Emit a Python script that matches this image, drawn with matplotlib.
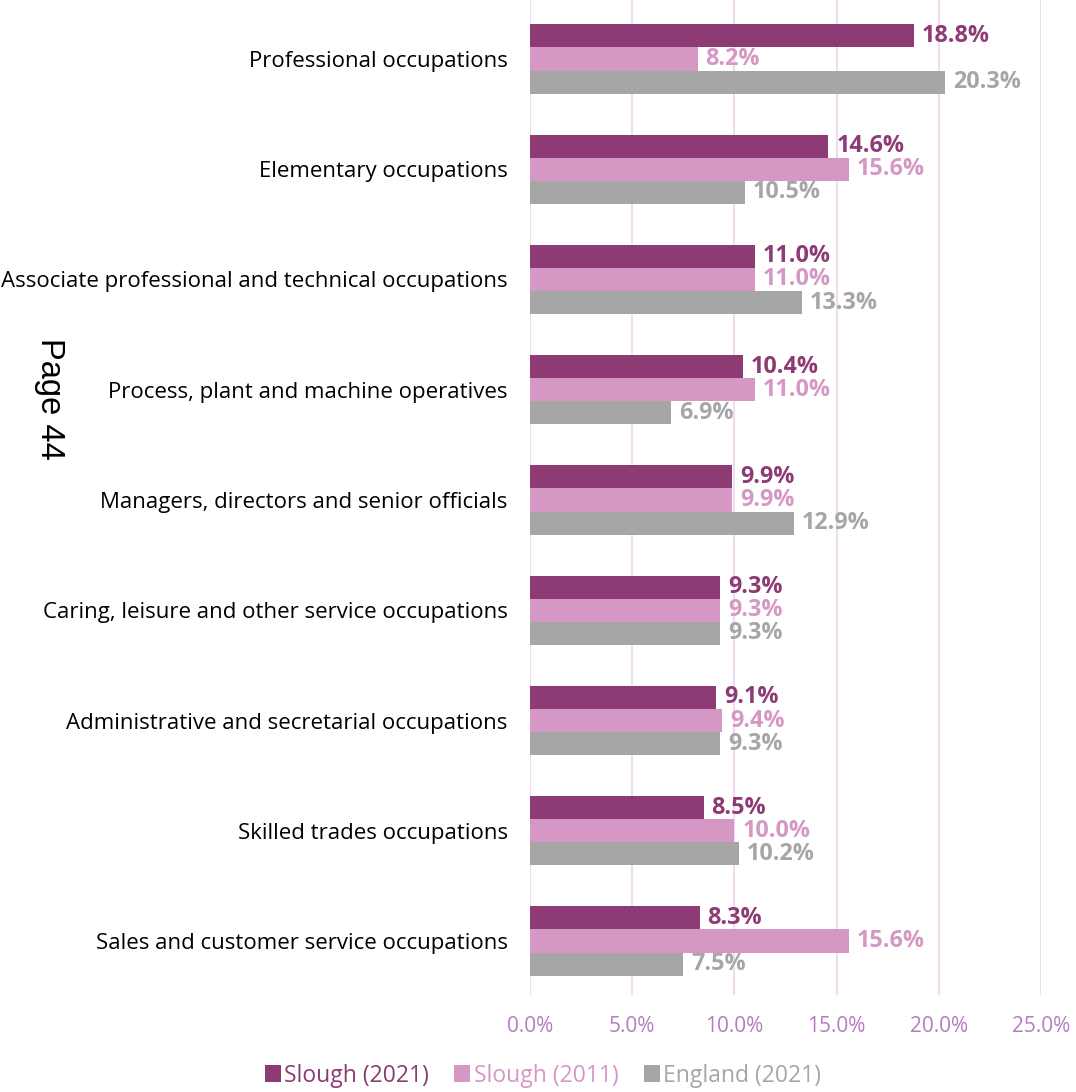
import matplotlib.pyplot as plt
import numpy as np

categories = [
    "Professional occupations",
    "Elementary occupations",
    "Associate professional and technical occupations",
    "Process, plant and machine operatives",
    "Managers, directors and senior officials",
    "Caring, leisure and other service occupations",
    "Administrative and secretarial occupations",
    "Skilled trades occupations",
    "Sales and customer service occupations",
]
slough_2021 = [18.8, 14.6, 11.0, 10.4, 9.9, 9.3, 9.1, 8.5, 8.3]
slough_2011 = [8.2, 15.6, 11.0, 11.0, 9.9, 9.3, 9.4, 10.0, 15.6]
england_2021 = [20.3, 10.5, 13.3, 6.9, 12.9, 9.3, 9.3, 10.2, 7.5]
x_ticks = [0, 5, 10, 15, 20, 25]

series = [
    ("Slough (2021)", slough_2021, "#8e3a74"),
    ("Slough (2011)", slough_2011, "#d597c4"),
    ("England (2021)", england_2021, "#a6a6a6"),
]

plt.rcParams['font.family'] = ['Open Sans', 'DejaVu Sans']

fig = plt.figure(figsize=(10.76, 10.92), dpi=100)
ax = fig.add_axes([0.4926, 0.0888, 0.4749, 0.9112])

y = np.arange(len(categories))
h = 0.21
for k, (name, vals, col) in enumerate(series):
    pos = y + (k - 1) * h
    ax.barh(pos, vals, height=h, color=col, label=name, zorder=2)
    for p, v in zip(pos, vals):
        ax.text(v + 0.38, p, f"{v:.1f}%", va='center', ha='left',
                fontsize=16.8, fontweight='bold', color=col, zorder=3)

ax.set_xlim(0, 25)
ax.set_ylim(8.49, -0.535)
ax.set_xticks(x_ticks)
ax.set_xticklabels([f"{t:.1f}%" for t in x_ticks], color="#b57cc0", fontsize=15)
ax.set_yticks(y)
ax.set_yticklabels(categories, fontsize=16)
ax.tick_params(axis='y', length=0, pad=16)
ax.tick_params(axis='x', length=0, pad=15)
ax.grid(axis='x', color="#f0dcee", linewidth=1.5, zorder=0)
for s in ax.spines.values():
    s.set_visible(False)

# legend sits just under the tick labels, centred under the whole figure
leg = ax.legend(loc='upper center', bbox_to_anchor=(0.025, -0.055), ncol=3,
                frameon=False, fontsize=16.5, handlelength=0.7,
                handleheight=0.7, handletextpad=0.15, columnspacing=1.1,
                borderaxespad=0.2)
for t, (_, _, col) in zip(leg.get_texts(), series):
    t.set_color(col)

fig.text(0.046, 0.635, "Page 44", rotation=-90, fontsize=23.5,
         family='Liberation Sans', ha='center', va='center')

fig.savefig("out.png", dpi=100)
